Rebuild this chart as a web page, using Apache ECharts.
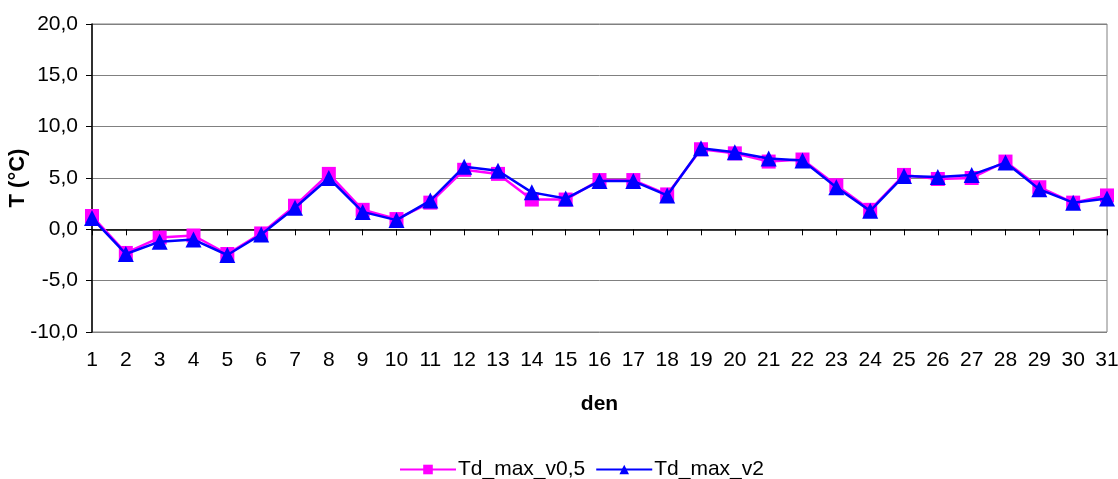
<!DOCTYPE html>
<html>
<head>
<meta charset="utf-8">
<script src="https://cdn.jsdelivr.net/npm/echarts@6/dist/echarts.min.js"></script>
<style>
  html, body { margin: 0; padding: 0; background: #fff; }
  #chart { width: 1118px; height: 479px; }
</style>
</head>
<body>
<div id="chart"></div>
<script>
// dny v mesici
var days = ['1','2','3','4','5','6','7','8','9','10','11','12','13','14','15','16',
            '17','18','19','20','21','22','23','24','25','26','27','28','29','30','31'];

// Td_max_v0,5 (magenta, ctverce)
var tdMaxV05 = [1.3, -2.3, -0.8, -0.6, -2.4, -0.4, 2.3, 5.4, 1.9, 1.0, 2.6, 5.8, 5.4, 2.9, 2.9, 4.8,
                4.8, 3.4, 7.8, 7.4, 6.6, 6.8, 4.3, 1.9, 5.3, 4.9, 5.0, 6.6, 4.1, 2.6, 3.3];

// Td_max_v2 (modra, trojuhelniky)
var tdMaxV2 = [1.1, -2.4, -1.2, -1.0, -2.5, -0.5, 2.1, 5.0, 1.7, 0.9, 2.8, 6.1, 5.7, 3.6, 3.0, 4.7,
               4.7, 3.3, 7.9, 7.5, 6.9, 6.7, 4.1, 1.8, 5.2, 5.1, 5.3, 6.5, 3.9, 2.6, 3.0];

var yTicks = {min: -10, max: 20, step: 5};

var fontFamily = '"Liberation Sans", Arial, sans-serif';

var myChart = echarts.init(document.getElementById('chart'));

/** formatovani cisla s desetinnou carkou */
var fmtComma = function(v) {
    return v.toFixed(1).replace('.', ',');
};

var option = {
    animation: false,
    backgroundColor: '#fff',
    textStyle: {fontFamily: fontFamily},
    grid: {
        left: 92,
        right: 11,
        top: 24,
        bottom: 147,
        outerBoundsMode: 'none',
        containLabel: false,
        show: true,
        borderColor: '#808080',
        borderWidth: 1
    },
    legend: {
        data: ['Td_max_v0,5', 'Td_max_v2'],
        left: 394,
        top: 454,
        itemWidth: 56,
        itemHeight: 12,
        itemGap: 10,
        textStyle: {fontSize: 21, color: '#000', fontFamily: fontFamily, padding: [0, 0, 0, -3]}
    },
    xAxis: {
        type: 'category',
        data: days,
        boundaryGap: false,
        name: 'den',
        nameLocation: 'middle',
        nameGap: 62,
        nameTextStyle: {fontSize: 21, fontWeight: 'bold', color: '#000', fontFamily: fontFamily},
        axisLine: {lineStyle: {color: '#000', width: 1.5}},
        axisTick: {show: true, length: 6, lineStyle: {color: '#000'}},
        axisLabel: {fontSize: 21, color: '#000', margin: 18, fontFamily: fontFamily},
        splitLine: {show: false}
    },
    yAxis: {
        type: 'value',
        min: yTicks.min,
        max: yTicks.max,
        interval: yTicks.step,
        name: 'T (°C)',
        nameLocation: 'middle',
        nameGap: 63,
        nameMoveOverlap: false,
        nameTextStyle: {fontSize: 22, fontWeight: 'bold', color: '#000', fontFamily: fontFamily},
        axisLine: {show: true, lineStyle: {color: '#000', width: 1.5}},
        axisTick: {show: true, length: 6, lineStyle: {color: '#000'}},
        axisLabel: {fontSize: 21, color: '#000', margin: 14, fontFamily: fontFamily, formatter: fmtComma},
        splitLine: {show: true, lineStyle: {color: '#808080', width: 1}}
    },
    series: [
        {
            name: 'Td_max_v0,5',
            type: 'line',
            data: tdMaxV05,
            symbol: 'rect',
            symbolSize: 14,
            itemStyle: {color: '#FF00FF'},
            lineStyle: {color: '#FF00FF', width: 2.5},
            z: 2
        },
        {
            name: 'Td_max_v2',
            type: 'line',
            data: tdMaxV2,
            symbol: 'triangle',
            symbolSize: 16,
            itemStyle: {color: '#0000FF'},
            lineStyle: {color: '#0000FF', width: 2.5},
            z: 3
        }
    ]
};

myChart.setOption(option);
</script>
</body>
</html>
